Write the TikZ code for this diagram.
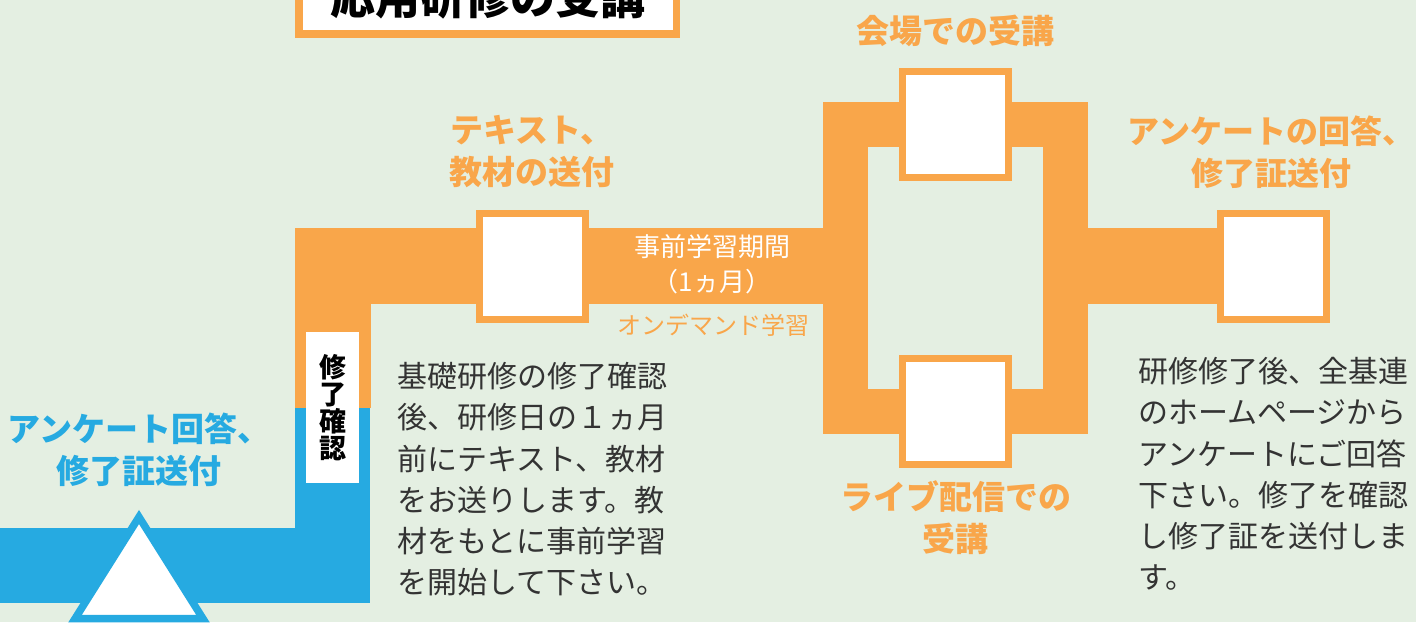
\documentclass[tikz,border=0pt]{standalone}
\usepackage{fontspec}
\setmainfont{Noto Sans CJK JP}
\usetikzlibrary{positioning}

\definecolor{bggreen}{RGB}{228,239,226}
\definecolor{boxorange}{RGB}{249,166,74}
\definecolor{flowblue}{RGB}{38,170,225}
\definecolor{textgray}{RGB}{51,51,51}

\pgfdeclarelayer{bands}
\pgfsetlayers{bands,main}

\begin{document}
\begin{tikzpicture}[
    x=0.5pt, y=-0.5pt,
    blankbox/.style   = {rectangle, draw=boxorange, fill=white, line width=3.5pt,
                         minimum size=53pt, inner sep=0pt},
    steplabel/.style  = {text=boxorange, font=\bfseries\fontsize{16.5}{21}\selectfont,
                         align=center, inner sep=0pt},
    bodytext/.style   = {text=textgray, font=\fontsize{15}{20.6}\selectfont,
                         align=left, inner sep=0pt, anchor=north west},
    titlebox/.style   = {rectangle, draw=boxorange, fill=white, line width=3.75pt,
                         minimum width=188.75pt, minimum height=37pt,
                         font=\bfseries\fontsize{22.5}{27}\selectfont},
    checktag/.style   = {rectangle, fill=white, minimum width=26.5pt, minimum height=75.5pt,
                         inner sep=0pt, align=center,
                         font=\bfseries\fontsize{13.5}{13.5}\selectfont},
    band/.style       = {draw=boxorange, line width=38pt, line join=miter},
    node distance=10.5pt,
]
    \useasboundingbox (0,0) rectangle (1416,622);

    %Nodes
    \node[titlebox]   (title)    at (487.5,-3)    {応用研修の受講};
    \node[blankbox]   (textbox)  at (532,266)     {};
    \node[blankbox]   (venue)    at (955.5,124.5) {};
    \node[blankbox]   (live)     at (955.5,411.5) {};
    \node[blankbox]   (survey)   at (1273,266)    {};
    \node[checktag]   (check)    at (332.5,407.5) {修\\了\\確\\認};
    \coordinate (split) at (845.5,266);
    \coordinate (merge) at (1065,266);
    \coordinate (start) at (-20,565.5);
    \coordinate (apex)  at (139,510);

    \node[steplabel]  (textlabel)   [above=of textbox]     {テキスト、\\教材の送付};
    \node[steplabel]  (venuelabel)  [above=of venue]       {会場での受講};
    \node[steplabel]  (livelabel)   [below=6pt of live]    {ライブ配信での\\受講};
    \node[steplabel, font=\bfseries\fontsize{16}{21}\selectfont, xshift=-1pt]
                      (surveylabel) [above=of survey]      {アンケートの回答、\\修了証送付};
    \node[steplabel, text=flowblue] (startlabel) [above=11.5pt of apex] {アンケート回答、\\修了証送付};

    \node[text=white, align=center, inner sep=0pt, font=\fontsize{13}{17.5}\selectfont]
        (period) at (712,264) {事前学習期間\\（1ヵ月）};
    \node[text=boxorange, inner sep=0pt, font=\fontsize{12}{14}\selectfont]
        (ondemand) at (713,325) {オンデマンド学習};

    \node[bodytext] (textnote) at (397,362)
        {基礎研修の修了確認\\後、研修日の１ヵ月\\前にテキスト、教材\\をお送りします。教\\材をもとに事前学習\\を開始して下さい。};
    \node[bodytext] (surveynote) at (1138,357)
        {研修修了後、全基連\\のホームページから\\アンケートにご回答\\下さい。修了を確認\\し修了証を送付しま\\す。};

    %Lines
    \begin{pgfonlayer}{bands}
        \fill[bggreen] (0,0) rectangle (1416,622);
        \draw[band, draw=flowblue, line width=37.5pt] (check.center) |- (start);
        \draw[band] (check.center) |- (textbox.center) -- (split);
        \draw[band, line width=22.5pt] (venue.center) -| (split) |- (live.center)
                                        -| (merge) |- (venue.center);
        \draw[band] (merge) -- (survey.center);
    \end{pgfonlayer}

    \filldraw[draw=flowblue, fill=white, line width=3.75pt, line join=miter]
        (139,517) -- (75,618.7) -- (203,618.7) -- cycle;
\end{tikzpicture}
\end{document}
